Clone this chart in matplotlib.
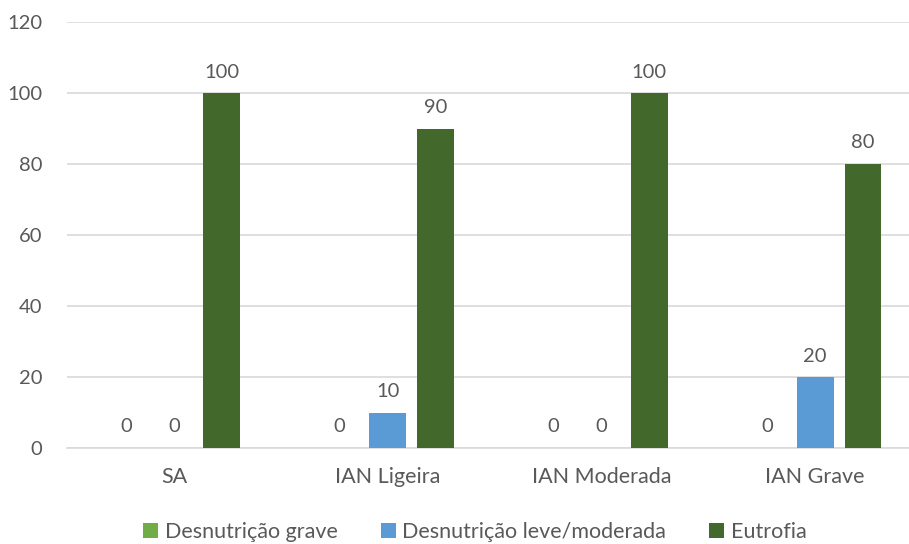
import matplotlib.pyplot as plt
import numpy as np

plt.rcParams['font.family'] = ['Lato', 'DejaVu Sans']

categorias = ['SA', 'IAN Ligeira', 'IAN Moderada', 'IAN Grave']
desnutricao_grave = [0, 0, 0, 0]
desnutricao_leve = [0, 10, 0, 20]
eutrofia = [100, 90, 100, 80]

series = [
    ('Desnutrição grave', desnutricao_grave, '#70AD47'),
    ('Desnutrição leve/moderada', desnutricao_leve, '#5B9BD5'),
    ('Eutrofia', eutrofia, '#43682B'),
]

fig = plt.figure(figsize=(9.09, 5.44), dpi=100)
ax = fig.add_axes([67 / 909, 96 / 544, 855 / 909, 426 / 544])

x = np.arange(len(categorias))
largura = 0.173
passo = 0.224
cinza = '#595959'

for i, (nome, vals, cor) in enumerate(series):
    pos = x + (i - 1) * passo
    ax.bar(pos, vals, largura, color=cor, label=nome, zorder=3)
    for p, v in zip(pos, vals):
        ax.annotate(str(v), (p, v), xytext=(0, 9), textcoords='offset points',
                    ha='center', va='bottom', fontsize=14.5, color=cinza)

ax.set_xlim(-0.5, len(categorias) - 0.5)
ax.set_ylim(0, 120)
ax.set_yticks(range(0, 121, 20))
ax.set_xticks(x)
ax.set_xticklabels(categorias)
ax.tick_params(axis='both', length=0, labelsize=14.5, colors=cinza)
ax.tick_params(axis='x', labelsize=15.5, pad=14)
ax.tick_params(axis='y', pad=18)
ax.grid(axis='y', color='#D9D9D9', linewidth=1.2, zorder=0)
for s in ['top', 'right', 'left']:
    ax.spines[s].set_visible(False)
ax.spines['bottom'].set_color('#D9D9D9')
ax.spines['bottom'].set_linewidth(1.2)

leg = fig.legend(loc='center', bbox_to_anchor=(475 / 909, 1 - 532 / 544), ncol=3,
                 frameon=False, fontsize=15.5, handlelength=0.7, handleheight=0.7,
                 handletextpad=0.3, columnspacing=2.0)
for t in leg.get_texts():
    t.set_color(cinza)

fig.savefig('out.png', dpi=100)
